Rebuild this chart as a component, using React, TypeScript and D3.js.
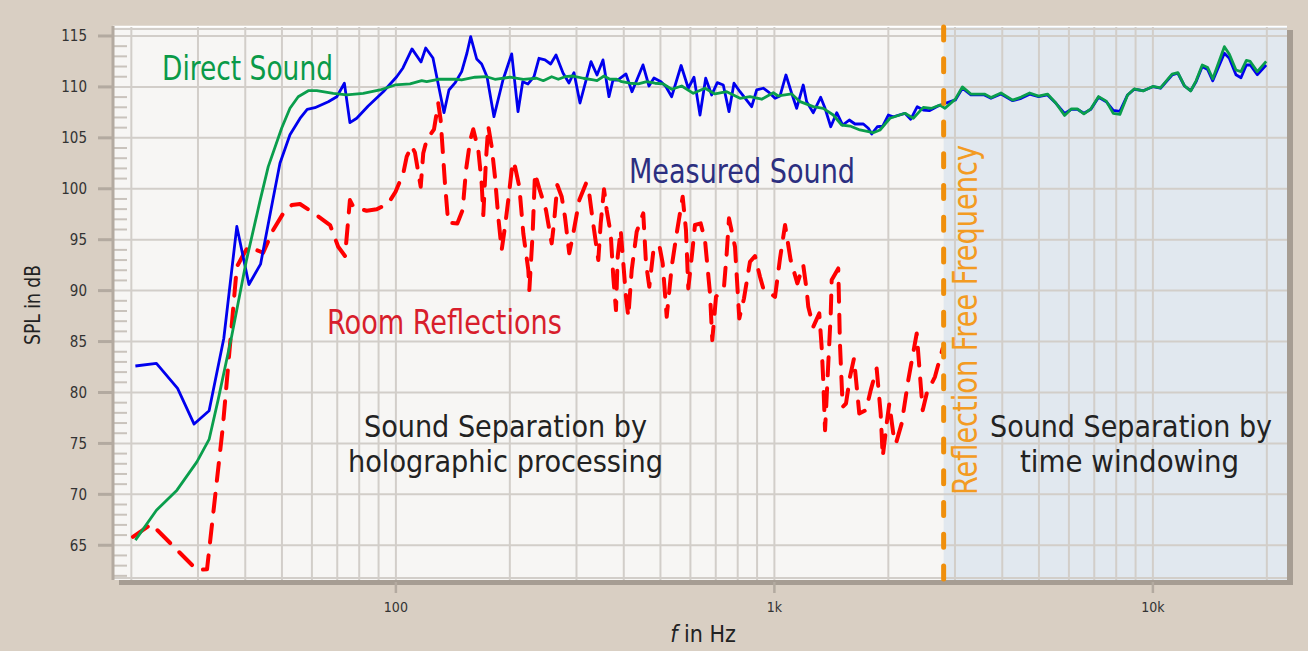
import React from 'react';
import * as d3 from 'd3';

const W = 1308;
const H = 651;
const plot = { left: 113, top: 26, right: 1287, bottom: 580 };

const yMajorTicks = [65, 70, 75, 80, 85, 90, 95, 100, 105, 110, 115];
const xTickValues = [100, 1000, 10000];
const xTickLabels = ['100', '1k', '10k'];
const reflectionFreeFreq = 2800;

const blueFreq = [20.5, 23.3, 26.5, 29.3, 32.1, 35.1, 38.0, 40.9, 43.9, 47.3, 49.4, 52.5, 55.8, 58.3, 61.1, 66.3, 69.8, 73.1, 75.6, 78.8, 84.5, 92.6, 100.5, 104.4, 110.3, 116.5, 119.9, 125.3, 134.0, 138.1, 143.3, 149.2, 154.1, 157.6, 163.5, 168.5, 174.1, 181.6, 191.8, 202.3, 210.2, 216.3, 223.4, 231.7, 238.8, 247.7, 256.4, 264.9, 276.4, 286.6, 295.5, 306.5, 327.7, 339.9, 352.5, 365.6, 374.6, 386.2, 405.4, 420.5, 449.6, 466.3, 480.7, 501.6, 517.1, 535.4, 567, 592.3, 613.2, 636.0, 658.4, 682.9, 706.5, 732.8, 758.7, 782.1, 811.2, 871.0, 897.9, 934.7, 969.4, 1004, 1035, 1073, 1111, 1145, 1192, 1217, 1267, 1325, 1361, 1409, 1461, 1515, 1577, 1633, 1718, 1771, 1808, 1870, 1933, 2000, 2061, 2213, 2291, 2385, 2474, 2566, 2684, 2794, 3007, 3138, 3305, 3588, 3735, 3969, 4261, 4488, 4726, 4989, 5267, 5546, 5844, 6094, 6313, 6572, 6858, 7187, 7531, 7859, 8181, 8573, 8925, 9421, 9993, 10473, 11238, 11642, 12119, 12585, 13004, 13504, 13956, 14395, 15448, 15925, 16577, 17089, 17660, 18080, 18870, 19920];
const blueDb = [82.6, 82.85, 80.4, 76.9, 78.2, 85.3, 96.3, 90.6, 92.6, 98.9, 102.5, 105.3, 106.9, 107.8, 107.96, 108.55, 109.04, 110.36, 106.49, 106.92, 108.13, 109.53, 111.0, 111.86, 113.73, 112.45, 113.82, 112.84, 107.47, 109.7, 110.39, 111.5, 113.33, 114.93, 112.74, 112.25, 111.0, 107.08, 110.68, 113.24, 107.57, 110.51, 110.29, 111.0, 112.81, 112.65, 112.25, 113.14, 111.37, 110.39, 111.4, 108.42, 112.48, 111.17, 112.65, 109.04, 110.68, 110.68, 111.27, 109.53, 112.16, 110.09, 110.88, 110.51, 110.02, 109.04, 112.1, 109.87, 110.95, 107.24, 110.85, 109.21, 110.42, 110.19, 107.57, 110.36, 109.53, 108.06, 109.7, 109.87, 109.43, 108.88, 109.11, 111.17, 109.37, 107.9, 110.19, 108.55, 107.47, 108.98, 107.9, 106.09, 107.47, 106.26, 106.75, 106.36, 106.36, 105.94, 105.38, 106.09, 106.16, 107.24, 107.07, 107.41, 106.82, 108.06, 107.73, 107.67, 108.06, 108.32, 108.72, 109.87, 109.21, 109.21, 108.88, 109.3, 108.65, 108.88, 109.28, 109.04, 109.21, 108.39, 107.4, 107.8, 107.8, 107.41, 107.8, 108.98, 108.55, 107.7, 107.6, 109.21, 109.77, 109.63, 110.02, 109.87, 111.17, 111.34, 110.09, 109.63, 110.51, 112.0, 111.7, 110.6, 113.3, 112.8, 111.2, 110.9, 112.15, 112.15, 111.2, 112.15];

const greenFreq = [20.5, 23.3, 26.4, 29.8, 32.1, 33.9, 36.8, 40.3, 43.8, 46.0, 49.9, 52.5, 55.2, 58.7, 61.8, 68.3, 74.1, 82.0, 90.8, 99.5, 109.0, 117.0, 120.6, 129.4, 144.8, 149.2, 161.8, 173.7, 182.7, 200.2, 217.1, 235.5, 245.2, 258.0, 268.6, 279.7, 294.2, 312.7, 332.3, 340.0, 354.7, 367.6, 383.1, 394.9, 415.4, 437.0, 459.8, 483.7, 508.7, 535.4, 569.0, 610.6, 655.6, 696.7, 748.2, 811.2, 862.0, 925.7, 993.3, 1024, 1111, 1169, 1267, 1346, 1431, 1506, 1584, 1683, 1825, 1901, 2020, 2213, 2328, 2474, 2604, 2738, 2823, 3007, 3138, 3305, 3588, 3735, 3969, 4261, 4488, 4726, 4989, 5267, 5546, 5844, 6094, 6313, 6572, 6858, 7187, 7531, 7859, 8181, 8573, 8925, 9421, 9993, 10473, 11238, 11642, 12119, 12585, 13004, 13504, 13956, 14395, 15448, 15925, 16577, 17089, 17660, 18080, 18870, 19920];
const greenDb = [65.5, 68.44, 70.41, 73.19, 75.39, 79.25, 85.47, 93.0, 98.89, 102.17, 105.94, 107.9, 109.04, 109.63, 109.63, 109.37, 109.21, 109.37, 109.7, 110.19, 110.29, 110.61, 110.51, 110.75, 110.75, 110.68, 110.95, 111.0, 110.75, 110.95, 110.75, 110.85, 110.61, 111.0, 110.75, 111.0, 111.07, 110.85, 110.68, 110.61, 111.07, 110.75, 110.75, 110.51, 110.36, 110.29, 110.51, 110.36, 110.29, 109.77, 110.09, 109.37, 109.87, 109.31, 109.53, 108.88, 109.04, 108.79, 109.43, 109.11, 109.31, 108.55, 108.06, 107.9, 107.24, 106.26, 106.16, 105.77, 105.5, 105.77, 106.92, 107.41, 106.92, 107.99, 107.9, 108.22, 107.9, 108.8, 110.0, 109.3, 109.3, 108.95, 109.4, 108.7, 109.0, 109.4, 109.1, 109.3, 108.4, 107.2, 107.85, 107.85, 107.35, 107.85, 109.05, 108.6, 107.4, 107.3, 109.2, 109.8, 109.6, 110.05, 109.9, 111.25, 111.4, 110.1, 109.6, 110.6, 112.15, 111.9, 110.8, 113.95, 113.2, 111.66, 111.5, 112.6, 112.5, 111.5, 112.5];

const redFreq = [20.2, 22.6, 29.8, 31.7, 34.9, 38.0, 39.5, 40.7, 44.6, 47.4, 50.4, 53.1, 55.8, 60.5, 67.0, 70.4, 73.4, 75.6, 77.2, 83.7, 89.0, 95.5, 99.8, 104.6, 106.8, 110.1, 112.3, 116.3, 118.1, 120.6, 126.1, 129.4, 131.3, 134.8, 137.5, 145.3, 150.1, 153.2, 157.2, 160.1, 165.1, 168.5, 170.2, 173.0, 175.4, 179.1, 182.7, 186.4, 190.3, 194.2, 198.1, 203.5, 206.4, 211.9, 217.1, 223.8, 225.2, 229.8, 233.1, 239.2, 249.2, 258.0, 261.6, 267.0, 274.2, 279.7, 287.1, 293.1, 305.2, 317.9, 324.3, 331.1, 342.6, 347.6, 354.7, 360.5, 369.4, 375.3, 381.5, 385.5, 392.6, 405.4, 411.2, 419.8, 432.7, 450.4, 457.9, 467.2, 478.7, 496.5, 506.9, 519.4, 535.4, 551.9, 572.4, 584.0, 592.3, 606.9, 616.9, 638.7, 655.6, 675.9, 685.4, 701.0, 736.0, 748.2, 758.7, 786.9, 807.7, 831.2, 862.0, 888.7, 916.1, 934.7, 1004, 1035, 1067, 1104, 1150, 1192, 1217, 1229, 1267, 1314, 1333, 1346, 1361, 1388, 1409, 1417, 1475, 1490, 1515, 1546, 1584, 1623, 1676, 1746, 1797, 1863, 1909, 1933, 1980, 2012, 2061, 2095, 2169, 2258, 2377, 2465, 2526, 2656, 2784];
const redDb = [65.82, 67.07, 62.58, 62.65, 76.63, 92.34, 93.49, 94.31, 93.72, 95.95, 97.59, 98.4, 98.5, 97.65, 96.44, 94.31, 93.39, 98.89, 98.23, 97.84, 97.98, 98.57, 99.71, 101.52, 103.15, 104.2, 103.54, 100.2, 103.48, 104.79, 105.84, 108.39, 106.75, 100.53, 96.66, 96.6, 97.91, 101.84, 104.79, 105.84, 103.81, 100.53, 97.42, 102.82, 106.16, 104.13, 101.18, 97.25, 93.98, 96.27, 98.89, 102.66, 102.17, 100.2, 95.62, 92.02, 90.05, 95.62, 101.52, 100.04, 97.91, 94.64, 96.6, 100.37, 99.22, 97.25, 93.66, 95.29, 98.89, 100.53, 99.48, 96.93, 93.0, 96.6, 99.95, 97.91, 95.62, 91.36, 88.09, 93.32, 95.95, 89.39, 87.43, 92.02, 95.78, 97.59, 92.68, 90.38, 93.82, 94.47, 92.68, 87.43, 92.34, 95.62, 99.22, 95.95, 90.22, 93.82, 96.44, 96.6, 94.96, 89.73, 85.14, 89.39, 90.38, 93.66, 97.1, 94.31, 87.27, 89.24, 92.83, 93.39, 91.36, 90.22, 89.39, 93.17, 96.44, 93.0, 90.71, 92.51, 90.05, 88.41, 86.45, 87.76, 84.48, 81.21, 76.3, 82.85, 87.76, 91.04, 92.18, 84.82, 78.59, 78.92, 81.54, 83.34, 77.94, 78.27, 80.23, 82.36, 77.94, 73.68, 76.96, 78.92, 75.98, 74.99, 76.96, 81.21, 85.8, 78.26, 79.91, 81.54, 84.33];

const FONT = "'DejaVu Sans Condensed', 'DejaVu Sans', sans-serif";
const FIT = 'spacingAndGlyphs';

export default function App() {
  const x = d3.scaleLog().domain([17.89, 22611]).range([plot.left, plot.right]);
  const y = d3.scaleLinear().domain([61.59, 115.98]).range([plot.bottom, plot.top]);
  const gridX = x.ticks();
  const minorY = d3.range(62, 116).filter((v) => v % 5 !== 0);

  const line = d3
    .line<[number, number]>()
    .x((d) => x(d[0]))
    .y((d) => y(d[1]));

  const bluePath = line(blueFreq.map((f, i) => [f, blueDb[i]]));
  const greenPath = line(greenFreq.map((f, i) => [f, greenDb[i]]));
  const redPath = line(redFreq.map((f, i) => [f, redDb[i]]));

  const xr = x(reflectionFreeFreq);
  const pw = plot.right - plot.left;
  const ph = plot.bottom - plot.top;

  return (
    <svg
      width={W}
      height={H}
      style={{ position: 'absolute', left: 0, top: 0, display: 'block' }}
      fontFamily={FONT}
    >
      <rect x={0} y={0} width={W} height={H} fill="#d9cfc3" />
      {/* drop shadow */}
      <rect x={plot.left + 6} y={plot.top + 4} width={pw} height={ph + 1} fill="#a69d93" />
      {/* plot area */}
      <rect x={plot.left} y={plot.top} width={pw} height={ph} fill="#f7f6f4" />
      <rect x={xr} y={plot.top} width={plot.right - xr} height={ph} fill="#e1e8ef" />
      <line x1={plot.left} x2={plot.right} y1={plot.top + 0.5} y2={plot.top + 0.5} stroke="#ffffff" strokeWidth={1.5} />

      {/* grid */}
      {gridX.map((f) => (
        <line key={'gx' + f} x1={x(f)} x2={x(f)} y1={plot.top + 1} y2={plot.bottom} stroke="#d2cec9" strokeWidth={2} />
      ))}
      {yMajorTicks.map((v) => (
        <line key={'gy' + v} x1={plot.left} x2={plot.right} y1={y(v)} y2={y(v)} stroke="#d2cec9" strokeWidth={2} />
      ))}
      <line x1={plot.left} x2={plot.right} y1={plot.top + 3} y2={plot.top + 3} stroke="#d2cec9" strokeWidth={2} />
      <line x1={plot.left} x2={plot.right} y1={plot.bottom - 2} y2={plot.bottom - 2} stroke="#d2cec9" strokeWidth={2} />

      {/* minor y ticks */}
      {minorY.map((v) => (
        <line key={'my' + v} x1={plot.left} x2={plot.left + 14} y1={y(v)} y2={y(v)} stroke="#c9c3bc" strokeWidth={2} />
      ))}

      {/* y axis */}
      <line x1={plot.left} x2={plot.left} y1={plot.top} y2={plot.bottom} stroke="#b3aaa0" strokeWidth={3} />
      {yMajorTicks.map((v) => (
        <g key={'yt' + v}>
          <line x1={plot.left - 15} x2={plot.left} y1={y(v)} y2={y(v)} stroke="#b3aaa0" strokeWidth={3} />
          <text x={87} y={y(v)} dy="0.35em" textAnchor="end" fontSize={15} fill="#333">
            {v}
          </text>
        </g>
      ))}

      {/* x axis ticks */}
      {xTickValues.map((f, i) => (
        <g key={'xt' + f}>
          <line x1={x(f)} x2={x(f)} y1={plot.bottom + 2} y2={plot.bottom + 13} stroke="#b3aaa0" strokeWidth={2.5} />
          <text x={x(f)} y={612} textAnchor="middle" fontSize={14} fill="#333">
            {xTickLabels[i]}
          </text>
        </g>
      ))}

      {/* data */}
      <path d={redPath || ''} fill="none" stroke="#ff0000" strokeWidth={4} strokeDasharray="18 13" strokeLinecap="round" strokeLinejoin="round" />
      <path d={bluePath || ''} fill="none" stroke="#0000ee" strokeWidth={2.8} strokeLinejoin="round" />
      <path d={greenPath || ''} fill="none" stroke="#0a9e4c" strokeWidth={2.8} strokeLinejoin="round" />

      {/* reflection free frequency line */}
      <line x1={xr} x2={xr} y1={27} y2={580} stroke="#ef8f0c" strokeWidth={5} strokeDasharray="13 18.7" strokeLinecap="round" />

      {/* annotations */}
      <text x={162} y={80} fontSize={33} fill="#0a9a48" textLength={171} lengthAdjust={FIT}>Direct Sound</text>
      <text x={629} y={183} fontSize={33} fill="#2c2f80" textLength={226} lengthAdjust={FIT}>Measured Sound</text>
      <text x={327} y={334} fontSize={33} fill="#d81e2c" textLength={235} lengthAdjust={FIT}>Room Reflections</text>
      <text fontSize={30} fill="#222">
        <tspan x={364} y={437} textLength={283} lengthAdjust={FIT}>Sound Separation by</tspan>
        <tspan x={348} y={472} textLength={315} lengthAdjust={FIT}>holographic processing</tspan>
      </text>
      <text fontSize={30} fill="#222">
        <tspan x={990} y={437} textLength={282} lengthAdjust={FIT}>Sound Separation by</tspan>
        <tspan x={1020} y={472} textLength={219} lengthAdjust={FIT}>time windowing</tspan>
      </text>
      <text transform="translate(977,495) rotate(-90)" fontSize={33} fill="#f39b22" textLength={350} lengthAdjust={FIT}>
        Reflection Free Frequency
      </text>

      {/* axis titles */}
      <text transform="translate(40,345) rotate(-90)" fontSize={21} fill="#222" textLength={80} lengthAdjust={FIT}>SPL in dB</text>
      <text x={703} y={642} textAnchor="middle" fontSize={23} fill="#222">
        <tspan fontStyle="italic">f</tspan> in Hz
      </text>
    </svg>
  );
}
